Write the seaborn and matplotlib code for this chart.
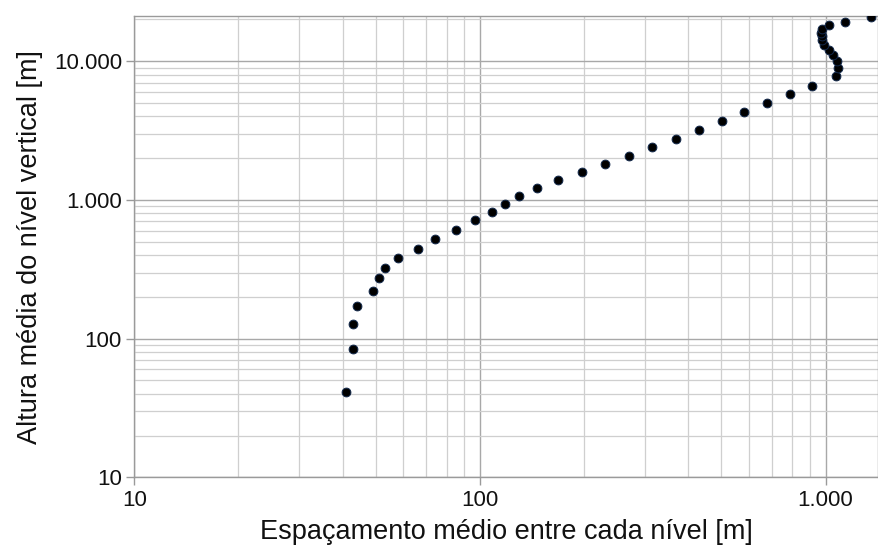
import matplotlib
matplotlib.use("Agg")
import matplotlib.pyplot as plt
from matplotlib.ticker import FuncFormatter, LogLocator, NullFormatter
import seaborn as sns
import pandas as pd

# Mean spacing between consecutive vertical levels and mean height of each level [m]
espacamento = [41, 43, 43, 44, 49, 51, 53, 58, 66, 74, 85, 97, 108, 118, 130, 146,
               168, 198, 230, 270, 315, 368, 430, 501, 580, 676, 788, 912, 1069,
               1087, 1082, 1051, 1022, 990, 980, 974, 968, 977, 1023, 1140, 1354]
altura = [41, 84, 127, 172, 221, 272, 325, 382, 446, 523, 608, 712, 819, 936, 1063,
          1215, 1387, 1584, 1818, 2076, 2399, 2767, 3213, 3712, 4310, 5005, 5783,
          6672, 7809, 8873, 10000, 11140, 12000, 13110, 14130, 15090, 16060, 17040,
          18180, 19270, 20800]

df = pd.DataFrame({"espacamento": espacamento, "altura": altura})

sns.set_theme(style="white")
plt.rcParams["font.family"] = ["Liberation Sans", "DejaVu Sans"]

fig = plt.figure(figsize=(8.79, 5.49), dpi=100)
ax = fig.add_axes([0.153, 0.1304, 0.846, 0.8405])

sns.scatterplot(data=df, x="espacamento", y="altura", ax=ax, s=40,
                color="#000000", edgecolor="#12284a", linewidth=0.7, zorder=3)

ax.set_xscale("log")
ax.set_yscale("log")
ax.set_xlim(10, 1420)
ax.set_ylim(10, 21200)


def milhar(v, pos):
    return f"{int(round(v)):,}".replace(",", ".")


for axis in (ax.xaxis, ax.yaxis):
    axis.set_major_locator(LogLocator(base=10))
    axis.set_minor_locator(LogLocator(base=10, subs=range(2, 10)))
    axis.set_major_formatter(FuncFormatter(milhar))
    axis.set_minor_formatter(NullFormatter())

ax.grid(which="major", color="#a8a8a8", linewidth=1.0)
ax.grid(which="minor", color="#cfcfcf", linewidth=0.9)
ax.set_axisbelow(True)

for side in ax.spines.values():
    side.set_color("#9a9a9a")
    side.set_linewidth(1.0)

ax.tick_params(axis="both", which="major", direction="out", length=6, width=1,
               color="#9a9a9a", labelsize=16, labelcolor="#111111", pad=3,
               bottom=True, left=True)
ax.tick_params(axis="both", which="minor", length=0)

ax.set_xlabel("Espaçamento médio entre cada nível [m]", fontsize=19.5,
              color="#111111", labelpad=6)
ax.set_ylabel("Altura média do nível vertical [m]", fontsize=19.5,
              color="#111111", labelpad=8)

fig.savefig("out.png", dpi=100)
